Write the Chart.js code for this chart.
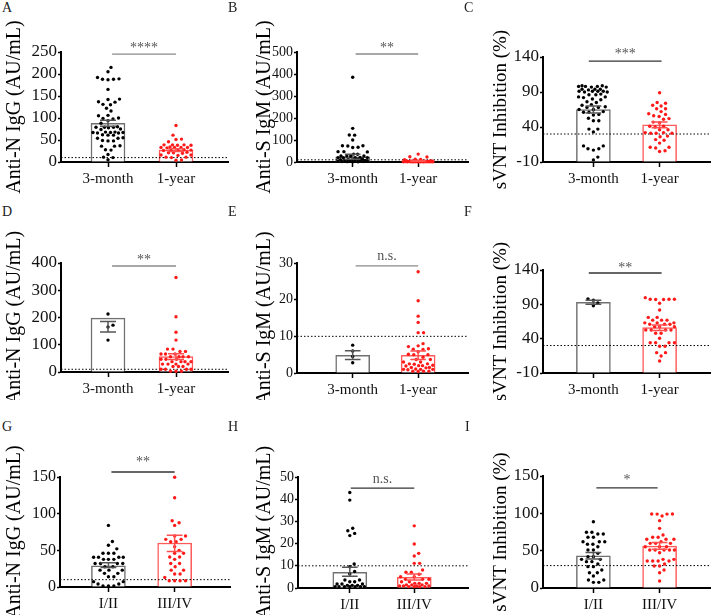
<!DOCTYPE html>
<html><head><meta charset="utf-8">
<script src="https://cdn.jsdelivr.net/npm/chart.js@4.4.1/dist/chart.umd.min.js"></script>
<style>
html,body{margin:0;padding:0;background:#fff;width:714px;height:615px;overflow:hidden;position:relative;}
.lab{position:absolute;font:14px 'Liberation Serif','Times New Roman',serif;color:#222;line-height:14px;}
</style></head><body>
<script>
// ---------- DATA ----------
const timeLabels = ['3-month', '1-year'];
const stageLabels = ['I/II', 'III/IV'];

// A: Anti-N IgG
const aMonth3 = [215,205,192,188,188,187,189,165,142,143,137,136,130,131,122,116,105,106,99,98,100,94,88,79,79,80,78,79,74,75,67,67,68,66,67,68,66,61,61,62,54,54,55,48,48,49,36,36,37,27,28,17,10,11,5];
const aYear1 = [83,61,52,51,46,39,39,38,38,39,33,33,34,33,33,32,27,27,28,27,26,21,21,22,20,16,16,15,11,10,11,4.5,4];
const aTicks = [0,50,100,150,200,250];
const aBars = [88, 27], aLow = [81, 24], aHigh = [95, 30];

// B: Anti-S IgM
const bMonth3 = [385,153,123,122,100,74,74,73,67,66,47,47,46,36,35,27,27,26,27,20,20,19,20,21,12,12,11,12,13,6,6,5,6,7,5,6,1.5,1,2,1,2];
const bYear1 = [36,24,23,12,11,13,4,5,4,5,4,6,1,1,1,2,1,0.5,1,1.5,0.5,2,3,1,0.5,2,1,3,0.8,1.2];
const bTicks = [0,100,200,300,400,500];
const bBars = [24, 5], bLow = [13, 3.5], bHigh = [35, 6.5];

// C: sVNT inhibition
const cMonth3 = [99,98,98,97,99,98,97,94,94,93,94,91,90,91,91,90,91,86,86,87,83,82,83,79,80,76,75,72,71,68,69,68,65,65,61,61,62,57,58,52.5,49,49,37,37,33,13,13,9,9,7,-3,-7];
const cYear1 = [89,75,74,71,70,66,66,62,59,58,55,56,52,51,47,46,41,41,40,36,36,32,31,31,32,31,27,26,22,21,17,11,10,11,6,5];
const cTicks = [-10,40,90,140];
const cBars = [65, 43], cLow = [60, 39], cHigh = [70, 47];

// D: Anti-N IgG
const dMonth3 = [213,172,165,117];
const dYear1 = [347,203,146,117,84,84,75,75,66,66,66,56,56,56,56,47,47,47,38,38,38,38,29,29,29,29,20,20,20,10,10,10,10,3,3,3];
const dTicks = [0,100,200,300,400];
const dBars = [198, 57], dLow = [147, 46], dHigh = [185, 67];

// E: Anti-S IgM
const eMonth3 = [7.6,6.0,4.5,2.8];
const eYear1 = [27.6,19.7,15.5,13.8,11,11,8,7.4,7.2,6.6,6.5,6.4,5.8,5,5,5.1,4.3,3.7,3.7,3,3,2.5,2.5,2.4,2,2,2.1,1.9,1.5,1.5,1.4,1,1,1,1.1,0.9,0.5,0.5,0.4,0.5];
const eTicks = [0,10,20,30];
const eBars = [4.8, 4.8], eLow = [3.7, 3.7], eHigh = [6.1, 6.0];

// F: sVNT inhibition
const fMonth3 = [98,96,92,88];
const fYear1 = [99.7,97,97.5,97,97.3,97.5,91.5,81.7,71,71,67,67,67,63,63,63,61,61,61,57.5,57.5,57.5,52.6,52.6,52.6,52.6,47.8,47.8,40.5,34,34,34,34,29,29,19.6,19.6,14.8,7.5];
const fTicks = [-10,40,90,140];
const fBars = [93, 56], fLow = [90, 52], fHigh = [96, 60];

// G: Anti-N IgG by stage
const gStage12 = [84,62,57,52,46,46,46,40.5,40.5,40.5,40.5,37.7,37.7,37.7,32,32,32,32,27.7,27.7,23,23,23,18.6,18.6,14,14,7.3,7.3,4,4,1.4,1.4,1.4];
const gStage34 = [149.6,121.8,90.4,87.7,84,69.5,69.5,65,65,61.8,61.8,55,50,46,46,41,41,37.7,32,32,27.7,23,23,17.7,17.7,13,8.6,8.6,8.6,8.6];
const gTicks = [0,50,100,150];
const gBars = [29, 60], gLow = [26.5, 48.5], gHigh = [33, 70.5];

// H: Anti-S IgM by stage
const hStage12 = [43,39.6,26.9,25.8,24.6,23.6,10.8,9.6,7.4,6.3,3.6,3.6,2.8,2.8,1.8,1.8,1.8,1.2,1.2,1.2,0.6,0.6,0.6,0.6,0.6,0.6,0.6];
const hStage34 = [28,19.8,15.6,14.4,11.1,11.1,8.1,7.1,7.1,6.2,5.1,5.1,3.9,3.9,3.9,2.8,2.8,2.1,2.1,2.1,1.4,1.4,1.4,0.9,0.9,0.9,0.9,0.6,0.6,0.6,0.6];
const hTicks = [0,10,20,30,40,50];
const hBars = [7.1, 4.8], hLow = [5.3, 3.6], hHigh = [9.3, 6.3];

// I: sVNT inhibition by stage
const iStage12 = [88.8,74.6,74.6,72.3,72.3,67.9,67.9,62,62,62,58.5,58.5,55.3,50.9,50.9,46.4,42,42,38.4,38.4,35.3,35.3,32.1,28.6,28.6,24.1,20.5,20.5,16,10.7,10.7,7.6,7.6];
const iStage34 = [99,99,99.1,99.1,96.4,90.2,79.9,71,67.9,67.9,65.2,65.2,65.2,62,59.8,59.8,59.8,55.3,55.3,55.3,50.9,50.9,50.9,50.9,50.9,47.3,38.4,38.4,36.2,36.2,36.2,36.2,32.1,29.5,29.5,24.1,20.5,9.4];
const iTicks = [0,50,100,150];
const iBars = [43, 56], iLow = [39, 52], iHigh = [47.5, 61];

const thresholds = {A:10,B:10,C:30,D:10,E:10,F:30,G:10,H:10,I:30};
const sigTexts = {A:'****',B:'**',C:'***',D:'**',E:'n.s.',F:'**',G:'**',H:'n.s.',I:'*'};
const sigLevels = {A:245,B:491,C:134,D:389,E:29.2,F:135.6,G:156.8,H:45,I:134};

const titleIgG = 'Anti-N IgG (AU/mL)';
const titleIgM = 'Anti-S IgM (AU/mL)';
const titleSVNT = 'sVNT Inhibition (%)';

// ---------- PANEL DEFINITIONS ----------
const panels = [
 {id:'A', g1:aMonth3, g2:aYear1, cats:timeLabels, ticks:aTicks, bars:aBars, lo:aLow, hi:aHigh, title:titleIgG},
 {id:'B', g1:bMonth3, g2:bYear1, cats:timeLabels, ticks:bTicks, bars:bBars, lo:bLow, hi:bHigh, title:titleIgM},
 {id:'C', g1:cMonth3, g2:cYear1, cats:timeLabels, ticks:cTicks, bars:cBars, lo:cLow, hi:cHigh, title:titleSVNT},
 {id:'D', g1:dMonth3, g2:dYear1, cats:timeLabels, ticks:dTicks, bars:dBars, lo:dLow, hi:dHigh, title:titleIgG},
 {id:'E', g1:eMonth3, g2:eYear1, cats:timeLabels, ticks:eTicks, bars:eBars, lo:eLow, hi:eHigh, title:titleIgM},
 {id:'F', g1:fMonth3, g2:fYear1, cats:timeLabels, ticks:fTicks, bars:fBars, lo:fLow, hi:fHigh, title:titleSVNT},
 {id:'G', g1:gStage12, g2:gStage34, cats:stageLabels, ticks:gTicks, bars:gBars, lo:gLow, hi:gHigh, title:titleIgG},
 {id:'H', g1:hStage12, g2:hStage34, cats:stageLabels, ticks:hTicks, bars:hBars, lo:hLow, hi:hHigh, title:titleIgM},
 {id:'I', g1:iStage12, g2:iStage34, cats:stageLabels, ticks:iTicks, bars:iBars, lo:iLow, hi:iHigh, title:titleSVNT}
];

// ---------- LAYOUT (pixels) ----------
const geom = {
 A:{left:0,  top:0,   w:232, h:200, axisX:61,  topY:52,  zeroY:162, endX:228, b1:108, b2:176, sx:[1.06,2], sigCol:'#8a8a8a', dy:2, lx:2, ly:1, tf:17, ttf:20, tp:3},
 B:{left:253,top:0,   w:219, h:200, axisX:297, topY:52,  zeroY:162, endX:472, b1:354, b2:421, sx:[1.045,2], sigCol:'#8a8a8a', dy:2, lx:228, ly:1, tf:14, ttf:20, tp:0},
 C:{left:487,top:0,   w:227, h:200, axisX:543, topY:57,  zeroY:162, endX:712, b1:594, b2:661, sx:[0.93,2.03], sigCol:'#333', dy:3, lx:464, ly:1, tf:17, ttf:19, tp:3},
 D:{left:0,  top:200, w:232, h:200, axisX:61,  topY:263, zeroY:372, endX:228, b1:108, b2:176, sx:[1.06,2], sigCol:'#8a8a8a', dy:2, lx:2, ly:205, tf:17, ttf:20, tp:3},
 E:{left:253,top:200, w:219, h:200, axisX:297, topY:263, zeroY:373, endX:472, b1:354, b2:421, sx:[1.045,2], sigCol:'#8a8a8a', dy:6, lx:228, ly:205, tf:14, ttf:20, tp:0},
 F:{left:487,top:200, w:227, h:200, axisX:543, topY:270, zeroY:373, endX:712, b1:594, b2:661, sx:[0.93,2.03], sigCol:'#333', dy:1, lx:464, ly:205, tf:17, ttf:19, tp:3},
 G:{left:0,  top:400, w:234, h:215, axisX:60,  topY:477, zeroY:587, endX:232, b1:109, b2:176, sx:[1.045,2], sigCol:'#333', dy:6, lx:2, ly:420, tf:16, ttf:20, tp:3},
 H:{left:253,top:400, w:219, h:215, axisX:298, topY:477, zeroY:588, endX:472, b1:351, b2:417, sx:[1.015,2], sigCol:'#333', dy:5, lx:228, ly:420, tf:14, ttf:20, tp:0},
 I:{left:487,top:400, w:227, h:215, axisX:543, topY:476, zeroY:588, endX:712, b1:594, b2:661, sx:[1.045,1.97], sigCol:'#333', dy:4, lx:465, ly:420, tf:17, ttf:19, tp:3}
};

const FONT = "'Liberation Serif','Times New Roman',serif";
const C_G1 = '#000000', C_G2 = '#ff1a1a';
const C_BAR1 = '#707070', C_BAR2 = '#ff5a5a';
const C_ERR1 = '#555555', C_ERR2 = '#ff5050';

// deterministic beeswarm placement (pixel space), limited width -> x positions in data units
function swarm(values, center, pxY, pxX, minDist, maxOff) {
  const order = values.map((v, i) => i).sort((a, b) => values[a] - values[b]);
  const placed = [];
  const xs = new Array(values.length);
  const nCand = Math.floor(maxOff / 0.5) * 2 + 1;
  for (const i of order) {
    const py = values[i] * pxY;
    let best = 0, bestScore = -1;
    for (let k = 0; k < nCand; k++) {
      const o = (k % 2 ? 1 : -1) * Math.ceil(k / 2) * 0.5;
      let md = Infinity;
      for (const p of placed) {
        const dd = Math.hypot(p.x - o, p.y - py);
        if (dd < md) md = dd;
      }
      if (md >= minDist) { best = o; break; }
      if (md > bestScore) { bestScore = md; best = o; }
    }
    placed.push({x: best, y: py});
    xs[i] = center + best / pxX;
  }
  return xs;
}

function errData(c, lo, hi, cap) {
  return [{x:c-cap,y:hi},{x:c+cap,y:hi},{x:c,y:null},{x:c,y:hi},{x:c,y:lo},{x:c,y:null},{x:c-cap,y:lo},{x:c+cap,y:lo}];
}

const sigPlugin = {
  id: 'sigText',
  afterDatasetsDraw(chart, args, opts) {
    const {ctx} = chart; const xs = chart.scales.x, ys = chart.scales.y;
    ctx.save();
    ctx.font = opts.size + 'px ' + FONT;
    ctx.fillStyle = opts.color;
    ctx.textAlign = 'center';
    ctx.textBaseline = 'alphabetic';
    ctx.fillText(opts.text, xs.getPixelForValue(opts.x), ys.getPixelForValue(opts.y) - opts.dy);
    ctx.restore();
  }
};

function makePanel(d) {
  const L = geom[d.id];
  const lab = document.createElement('div');
  lab.className = 'lab'; lab.textContent = d.id;
  lab.style.left = L.lx + 'px'; lab.style.top = L.ly + 'px';
  document.body.appendChild(lab);

  const cv = document.createElement('canvas');
  cv.width = L.w; cv.height = L.h;
  cv.style.cssText = `position:absolute;left:${L.left}px;top:${L.top}px;width:${L.w}px;height:${L.h}px;`;
  document.body.appendChild(cv);

  const yMin = d.ticks[0], yMax = d.ticks[d.ticks.length - 1];
  const unitPx = L.b2 - L.b1;
  const xMin = 1 - (L.b1 - L.axisX) / unitPx;
  const xMax = 2 + (L.endX - L.b2) / unitPx;
  const pxY = (L.zeroY - L.topY) / (yMax - yMin);
  const x1 = swarm(d.g1, 1, pxY, unitPx, 5.2, 15);
  const x2 = swarm(d.g2, 2, pxY, unitPx, 5.2, 15);
  const cap = 8 / unitPx;
  const thr = thresholds[d.id];

  new Chart(cv, {
    type: 'bar',
    data: {
      datasets: [
        {type:'bar', data:[{x:1,y:d.bars[0]},{x:2,y:d.bars[1]}], base:yMin,
         backgroundColor:'#ffffff', borderColor:[C_BAR1, C_BAR2], borderWidth:1.5,
         borderSkipped:'start', barThickness:34, order:10},
        {type:'line', data:[{x:xMin,y:thr},{x:xMax,y:thr}], borderColor:'#000', borderWidth:1,
         borderDash:[1.5,2], pointRadius:0, order:8},
        {type:'line', data:d.g1.map((v,i)=>({x:x1[i],y:v})), showLine:false, pointRadius:1.7,
         pointBorderWidth:0, pointBackgroundColor:C_G1, order:5, clip:false},
        {type:'line', data:d.g2.map((v,i)=>({x:x2[i],y:v})), showLine:false, pointRadius:1.7,
         pointBorderWidth:0, pointBackgroundColor:C_G2, order:5, clip:false},
        {type:'line', data:errData(1, d.lo[0], d.hi[0], cap), borderColor:C_ERR1, borderWidth:1.5,
         pointRadius:0, spanGaps:false, order:2, clip:false},
        {type:'line', data:errData(2, d.lo[1], d.hi[1], cap), borderColor:C_ERR2, borderWidth:1.5,
         pointRadius:0, spanGaps:false, order:2, clip:false},
        {type:'line', data:[{x:L.sx[0],y:sigLevels[d.id]},{x:L.sx[1],y:sigLevels[d.id]}],
         borderColor:L.sigCol, borderWidth:1.3, pointRadius:0, order:1, clip:false}
      ]
    },
    options: {
      responsive:false, animation:false, devicePixelRatio:1,
      layout:{padding:{top:L.topY - L.top, right:L.left + L.w - L.endX, left:0, bottom:0}},
      plugins:{legend:{display:false}, tooltip:{enabled:false},
        sigText:{text:sigTexts[d.id], x:(L.sx[0]+L.sx[1])/2, y:sigLevels[d.id], dy:L.dy,
                 size:14, color:'#555'}},
      scales:{
        x:{type:'linear', min:xMin, max:xMax, offset:false,
           afterBuildTicks:s=>{ s.ticks = [{value:1},{value:2}]; },
           afterFit:s=>{ s.height = L.top + L.h - L.zeroY; },
           ticks:{callback:(v,i)=>d.cats[i], font:{family:FONT,size:15}, color:'#111', padding:3,
                  autoSkip:false, maxRotation:0, minRotation:0},
           grid:{display:true, drawOnChartArea:false, drawTicks:true, tickLength:5, tickWidth:1.5,
                 tickColor:'#000', offset:false},
           border:{display:true, color:'#000', width:2}},
        y:{type:'linear', min:yMin, max:yMax,
           afterBuildTicks:s=>{ s.ticks = d.ticks.map(v=>({value:v})); },
           afterFit:s=>{ s.width = L.axisX - L.left; },
           ticks:{font:{family:FONT,size:L.tf}, color:'#111', padding:1, autoSkip:false},
           grid:{display:true, drawOnChartArea:false, drawTicks:true, tickLength:3, tickWidth:1.5, tickColor:'#000'},
           border:{display:true, color:'#000', width:2},
           title:{display:true, text:d.title, font:{family:FONT,size:L.ttf}, color:'#000', padding:{top:L.tp,bottom:0}}}
      }
    },
    plugins:[sigPlugin]
  });
}

panels.forEach(makePanel);
</script>
</body></html>
